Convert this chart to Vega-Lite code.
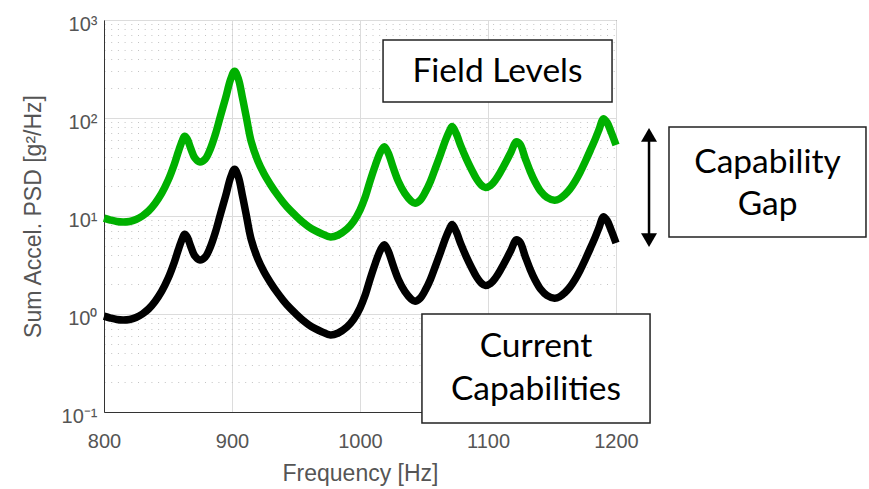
{
  "$schema": "https://vega.github.io/schema/vega-lite/v6.json",
  "width": 512,
  "height": 392,
  "autosize": {"type": "none"},
  "padding": {"left": 104, "top": 20, "right": 253, "bottom": 77},
  "background": "white",
  "config": {
    "view": {"stroke": "#333333", "strokeWidth": 1},
    "font": "Liberation Sans"
  },
  "datasets": {
    "psd": [
      {"f":800,"v":0.95,"s":"Current Capabilities"},{"f":805,"v":0.91,"s":"Current Capabilities"},{"f":810,"v":0.88,"s":"Current Capabilities"},{"f":815,"v":0.87,"s":"Current Capabilities"},{"f":820,"v":0.88,"s":"Current Capabilities"},{"f":825,"v":0.92,"s":"Current Capabilities"},{"f":830,"v":1.0,"s":"Current Capabilities"},{"f":835,"v":1.13,"s":"Current Capabilities"},{"f":840,"v":1.35,"s":"Current Capabilities"},{"f":845,"v":1.7,"s":"Current Capabilities"},{"f":850,"v":2.3,"s":"Current Capabilities"},{"f":855,"v":3.4,"s":"Current Capabilities"},{"f":858,"v":4.5,"s":"Current Capabilities"},{"f":861,"v":5.8,"s":"Current Capabilities"},{"f":863,"v":6.5,"s":"Current Capabilities"},{"f":865,"v":6.1,"s":"Current Capabilities"},{"f":868,"v":4.8,"s":"Current Capabilities"},{"f":871,"v":3.9,"s":"Current Capabilities"},{"f":875,"v":3.55,"s":"Current Capabilities"},{"f":879,"v":3.8,"s":"Current Capabilities"},{"f":883,"v":4.8,"s":"Current Capabilities"},{"f":887,"v":6.8,"s":"Current Capabilities"},{"f":891,"v":10.5,"s":"Current Capabilities"},{"f":895,"v":16,"s":"Current Capabilities"},{"f":899,"v":25,"s":"Current Capabilities"},{"f":902,"v":30,"s":"Current Capabilities"},{"f":905,"v":25,"s":"Current Capabilities"},{"f":908,"v":16.5,"s":"Current Capabilities"},{"f":911,"v":10.5,"s":"Current Capabilities"},{"f":915,"v":5.75,"s":"Current Capabilities"},{"f":920,"v":3.7,"s":"Current Capabilities"},{"f":925,"v":2.7,"s":"Current Capabilities"},{"f":930,"v":2.1,"s":"Current Capabilities"},{"f":935,"v":1.68,"s":"Current Capabilities"},{"f":940,"v":1.38,"s":"Current Capabilities"},{"f":945,"v":1.16,"s":"Current Capabilities"},{"f":950,"v":1.0,"s":"Current Capabilities"},{"f":955,"v":0.87,"s":"Current Capabilities"},{"f":960,"v":0.776,"s":"Current Capabilities"},{"f":965,"v":0.71,"s":"Current Capabilities"},{"f":970,"v":0.66,"s":"Current Capabilities"},{"f":977,"v":0.61,"s":"Current Capabilities"},{"f":983,"v":0.64,"s":"Current Capabilities"},{"f":990,"v":0.74,"s":"Current Capabilities"},{"f":995,"v":0.88,"s":"Current Capabilities"},{"f":1000,"v":1.15,"s":"Current Capabilities"},{"f":1004,"v":1.55,"s":"Current Capabilities"},{"f":1008,"v":2.3,"s":"Current Capabilities"},{"f":1012,"v":3.3,"s":"Current Capabilities"},{"f":1016,"v":4.5,"s":"Current Capabilities"},{"f":1019,"v":5.1,"s":"Current Capabilities"},{"f":1022,"v":4.4,"s":"Current Capabilities"},{"f":1026,"v":3.1,"s":"Current Capabilities"},{"f":1030,"v":2.25,"s":"Current Capabilities"},{"f":1035,"v":1.7,"s":"Current Capabilities"},{"f":1040,"v":1.42,"s":"Current Capabilities"},{"f":1043,"v":1.35,"s":"Current Capabilities"},{"f":1047,"v":1.45,"s":"Current Capabilities"},{"f":1051,"v":1.75,"s":"Current Capabilities"},{"f":1055,"v":2.25,"s":"Current Capabilities"},{"f":1059,"v":3.1,"s":"Current Capabilities"},{"f":1063,"v":4.3,"s":"Current Capabilities"},{"f":1067,"v":6.0,"s":"Current Capabilities"},{"f":1070,"v":7.4,"s":"Current Capabilities"},{"f":1072,"v":8.2,"s":"Current Capabilities"},{"f":1075,"v":7.0,"s":"Current Capabilities"},{"f":1079,"v":5.1,"s":"Current Capabilities"},{"f":1083,"v":3.85,"s":"Current Capabilities"},{"f":1087,"v":3.0,"s":"Current Capabilities"},{"f":1091,"v":2.4,"s":"Current Capabilities"},{"f":1095,"v":2.05,"s":"Current Capabilities"},{"f":1098,"v":1.95,"s":"Current Capabilities"},{"f":1102,"v":2.05,"s":"Current Capabilities"},{"f":1106,"v":2.35,"s":"Current Capabilities"},{"f":1110,"v":2.85,"s":"Current Capabilities"},{"f":1114,"v":3.55,"s":"Current Capabilities"},{"f":1118,"v":4.5,"s":"Current Capabilities"},{"f":1122,"v":5.7,"s":"Current Capabilities"},{"f":1125,"v":5.4,"s":"Current Capabilities"},{"f":1129,"v":3.9,"s":"Current Capabilities"},{"f":1133,"v":2.85,"s":"Current Capabilities"},{"f":1137,"v":2.2,"s":"Current Capabilities"},{"f":1141,"v":1.8,"s":"Current Capabilities"},{"f":1146,"v":1.55,"s":"Current Capabilities"},{"f":1152,"v":1.45,"s":"Current Capabilities"},{"f":1156,"v":1.5,"s":"Current Capabilities"},{"f":1160,"v":1.65,"s":"Current Capabilities"},{"f":1164,"v":1.88,"s":"Current Capabilities"},{"f":1168,"v":2.25,"s":"Current Capabilities"},{"f":1172,"v":2.8,"s":"Current Capabilities"},{"f":1176,"v":3.6,"s":"Current Capabilities"},{"f":1180,"v":4.7,"s":"Current Capabilities"},{"f":1184,"v":6.2,"s":"Current Capabilities"},{"f":1187,"v":7.8,"s":"Current Capabilities"},{"f":1190,"v":9.8,"s":"Current Capabilities"},{"f":1193,"v":9.0,"s":"Current Capabilities"},{"f":1196,"v":7.3,"s":"Current Capabilities"},{"f":1200,"v":5.3,"s":"Current Capabilities"},
      {"f":800,"v":9.5,"s":"Field Levels"},{"f":805,"v":9.1,"s":"Field Levels"},{"f":810,"v":8.8,"s":"Field Levels"},{"f":815,"v":8.7,"s":"Field Levels"},{"f":820,"v":8.8,"s":"Field Levels"},{"f":825,"v":9.2,"s":"Field Levels"},{"f":830,"v":10,"s":"Field Levels"},{"f":835,"v":11.3,"s":"Field Levels"},{"f":840,"v":13.5,"s":"Field Levels"},{"f":845,"v":17,"s":"Field Levels"},{"f":850,"v":23,"s":"Field Levels"},{"f":855,"v":34,"s":"Field Levels"},{"f":858,"v":45,"s":"Field Levels"},{"f":861,"v":58,"s":"Field Levels"},{"f":863,"v":65,"s":"Field Levels"},{"f":865,"v":61,"s":"Field Levels"},{"f":868,"v":48,"s":"Field Levels"},{"f":871,"v":39,"s":"Field Levels"},{"f":875,"v":35.5,"s":"Field Levels"},{"f":879,"v":38,"s":"Field Levels"},{"f":883,"v":48,"s":"Field Levels"},{"f":887,"v":68,"s":"Field Levels"},{"f":891,"v":105,"s":"Field Levels"},{"f":895,"v":160,"s":"Field Levels"},{"f":899,"v":250,"s":"Field Levels"},{"f":902,"v":300,"s":"Field Levels"},{"f":905,"v":250,"s":"Field Levels"},{"f":908,"v":165,"s":"Field Levels"},{"f":911,"v":105,"s":"Field Levels"},{"f":915,"v":57.5,"s":"Field Levels"},{"f":920,"v":37,"s":"Field Levels"},{"f":925,"v":27,"s":"Field Levels"},{"f":930,"v":21,"s":"Field Levels"},{"f":935,"v":16.8,"s":"Field Levels"},{"f":940,"v":13.8,"s":"Field Levels"},{"f":945,"v":11.6,"s":"Field Levels"},{"f":950,"v":10,"s":"Field Levels"},{"f":955,"v":8.7,"s":"Field Levels"},{"f":960,"v":7.76,"s":"Field Levels"},{"f":965,"v":7.1,"s":"Field Levels"},{"f":970,"v":6.6,"s":"Field Levels"},{"f":977,"v":6.1,"s":"Field Levels"},{"f":983,"v":6.4,"s":"Field Levels"},{"f":990,"v":7.4,"s":"Field Levels"},{"f":995,"v":8.8,"s":"Field Levels"},{"f":1000,"v":11.5,"s":"Field Levels"},{"f":1004,"v":15.5,"s":"Field Levels"},{"f":1008,"v":23,"s":"Field Levels"},{"f":1012,"v":33,"s":"Field Levels"},{"f":1016,"v":45,"s":"Field Levels"},{"f":1019,"v":51,"s":"Field Levels"},{"f":1022,"v":44,"s":"Field Levels"},{"f":1026,"v":31,"s":"Field Levels"},{"f":1030,"v":22.5,"s":"Field Levels"},{"f":1035,"v":17,"s":"Field Levels"},{"f":1040,"v":14.2,"s":"Field Levels"},{"f":1043,"v":13.5,"s":"Field Levels"},{"f":1047,"v":14.5,"s":"Field Levels"},{"f":1051,"v":17.5,"s":"Field Levels"},{"f":1055,"v":22.5,"s":"Field Levels"},{"f":1059,"v":31,"s":"Field Levels"},{"f":1063,"v":43,"s":"Field Levels"},{"f":1067,"v":60,"s":"Field Levels"},{"f":1070,"v":74,"s":"Field Levels"},{"f":1072,"v":82,"s":"Field Levels"},{"f":1075,"v":70,"s":"Field Levels"},{"f":1079,"v":51,"s":"Field Levels"},{"f":1083,"v":38.5,"s":"Field Levels"},{"f":1087,"v":30,"s":"Field Levels"},{"f":1091,"v":24,"s":"Field Levels"},{"f":1095,"v":20.5,"s":"Field Levels"},{"f":1098,"v":19.5,"s":"Field Levels"},{"f":1102,"v":20.5,"s":"Field Levels"},{"f":1106,"v":23.5,"s":"Field Levels"},{"f":1110,"v":28.5,"s":"Field Levels"},{"f":1114,"v":35.5,"s":"Field Levels"},{"f":1118,"v":45,"s":"Field Levels"},{"f":1122,"v":57,"s":"Field Levels"},{"f":1125,"v":54,"s":"Field Levels"},{"f":1129,"v":39,"s":"Field Levels"},{"f":1133,"v":28.5,"s":"Field Levels"},{"f":1137,"v":22,"s":"Field Levels"},{"f":1141,"v":18,"s":"Field Levels"},{"f":1146,"v":15.5,"s":"Field Levels"},{"f":1152,"v":14.5,"s":"Field Levels"},{"f":1156,"v":15,"s":"Field Levels"},{"f":1160,"v":16.5,"s":"Field Levels"},{"f":1164,"v":18.8,"s":"Field Levels"},{"f":1168,"v":22.5,"s":"Field Levels"},{"f":1172,"v":28,"s":"Field Levels"},{"f":1176,"v":36,"s":"Field Levels"},{"f":1180,"v":47,"s":"Field Levels"},{"f":1184,"v":62,"s":"Field Levels"},{"f":1187,"v":78,"s":"Field Levels"},{"f":1190,"v":98,"s":"Field Levels"},{"f":1193,"v":90,"s":"Field Levels"},{"f":1196,"v":73,"s":"Field Levels"},{"f":1200,"v":53,"s":"Field Levels"}
    ],
    "one": [{}]
  },
  "layer": [
    {
      "data": {"name": "psd"},
      "mark": {"type": "line", "interpolate": "catmull-rom", "strokeWidth": 7.5, "strokeJoin": "round"},
      "encoding": {
        "x": {
          "field": "f", "type": "quantitative",
          "scale": {"domain": [800, 1200], "nice": false, "zero": false},
          "axis": {
            "title": "Frequency [Hz]",
            "values": [800, 900, 1000, 1100, 1200],
            "format": "d",
            "grid": true, "gridColor": "#dcdcdc", "gridWidth": 1,
            "domainColor": "#333333",
            "ticks": false,
            "labelFont": "Liberation Sans", "labelFontSize": 20, "labelColor": "#555555",
            "labelPadding": 19, "labelFlush": false, "labelOverlap": false,
            "titleFont": "Liberation Sans", "titleFontSize": 23, "titleFontWeight": "normal", "titleColor": "#555555",
            "titleX": 256, "titleY": 68, "titleBaseline": "alphabetic", "titleAlign": "center"
          }
        },
        "y": {
          "field": "v", "type": "quantitative",
          "scale": {"type": "log", "domain": [0.1, 1000], "nice": false},
          "axis": {
            "title": "Sum Accel. PSD [g²/Hz]",
            "values": [0.1,0.2,0.3,0.4,0.5,0.6,0.7,0.8,0.9,1,2,3,4,5,6,7,8,9,10,20,30,40,50,60,70,80,90,100,200,300,400,500,600,700,800,900,1000],
            "grid": true,
            "gridColor": {"condition": {"test": "abs(log(datum.value)/LN10 - round(log(datum.value)/LN10)) < 0.001", "value": "#dcdcdc"}, "value": "#c4c4c4"},
            "gridDash": {"condition": {"test": "abs(log(datum.value)/LN10 - round(log(datum.value)/LN10)) < 0.001", "value": []}, "value": [1, 5.7]},
            "gridWidth": 1,
            "domainColor": "#333333",
            "ticks": false,
            "labelExpr": "datum.value == 1000 ? '10³' : datum.value == 100 ? '10²' : datum.value == 10 ? '10¹' : datum.value == 1 ? '10⁰' : datum.value == 0.1 ? '10⁻¹' : ''",
            "labelFont": "Liberation Sans", "labelFontSize": 20, "labelColor": "#555555",
            "labelPadding": 7, "labelOverlap": false, "labelFlush": false, "labelOffset": 4,
            "titleFont": "Liberation Sans", "titleFontSize": 23, "titleFontWeight": "normal", "titleColor": "#555555",
            "titleX": -71, "titleY": 196, "titleAngle": 270, "titleAlign": "center", "titleBaseline": "middle"
          }
        },
        "color": {
          "field": "s", "type": "nominal",
          "scale": {"domain": ["Field Levels", "Current Capabilities"], "range": ["#00b000", "#000000"]},
          "legend": null
        },
        "detail": {"field": "s"}
      }
    },
    {
      "data": {"name": "one"},
      "mark": {"type": "rect", "fill": "white", "stroke": "#222222", "strokeWidth": 1.5},
      "encoding": {
        "x": {"datum": 1018, "type": "quantitative", "scale": {"domain": [800, 1200], "nice": false, "zero": false}},
        "x2": {"datum": 1196.9},
        "y": {"datum": 625, "type": "quantitative", "scale": {"type": "log", "domain": [0.1, 1000], "nice": false}},
        "y2": {"datum": 145.6}
      }
    },
    {
      "data": {"name": "one"},
      "mark": {"type": "text", "text": "Field Levels", "font": "Lato", "fontSize": 33.5, "color": "#000000", "align": "center", "baseline": "middle"},
      "encoding": {
        "x": {"datum": 1107.4, "type": "quantitative", "scale": {"domain": [800, 1200], "nice": false, "zero": false}},
        "y": {"datum": 294.6, "type": "quantitative", "scale": {"type": "log", "domain": [0.1, 1000], "nice": false}}
      }
    },
    {
      "data": {"name": "one"},
      "mark": {"type": "rect", "fill": "white", "stroke": "#222222", "strokeWidth": 1.5},
      "encoding": {
        "x": {"datum": 1241.4, "type": "quantitative", "scale": {"domain": [800, 1200], "nice": false, "zero": false}},
        "x2": {"datum": 1395.3},
        "y": {"datum": 80.9, "type": "quantitative", "scale": {"type": "log", "domain": [0.1, 1000], "nice": false}},
        "y2": {"datum": 6.1}
      }
    },
    {
      "data": {"name": "one"},
      "mark": {"type": "text", "text": ["Capability", "Gap"], "lineHeight": 42, "font": "Lato", "fontSize": 33.5, "color": "#000000", "align": "center", "baseline": "middle"},
      "encoding": {
        "x": {"datum": 1318.4, "type": "quantitative", "scale": {"domain": [800, 1200], "nice": false, "zero": false}},
        "y": {"datum": 34.7, "type": "quantitative", "scale": {"type": "log", "domain": [0.1, 1000], "nice": false}}
      }
    },
    {
      "data": {"name": "one"},
      "mark": {"type": "rule", "color": "#000000", "strokeWidth": 2.5},
      "encoding": {
        "x": {"datum": 1225.8, "type": "quantitative", "scale": {"domain": [800, 1200], "nice": false, "zero": false}},
        "y": {"datum": 67.2, "type": "quantitative", "scale": {"type": "log", "domain": [0.1, 1000], "nice": false}},
        "y2": {"datum": 5.68}
      }
    },
    {
      "data": {"name": "one"},
      "mark": {"type": "point", "shape": "triangle-up", "filled": true, "size": 256, "color": "#000000", "opacity": 1},
      "encoding": {
        "x": {"datum": 1225.8, "type": "quantitative", "scale": {"domain": [800, 1200], "nice": false, "zero": false}},
        "y": {"datum": 67.2, "type": "quantitative", "scale": {"type": "log", "domain": [0.1, 1000], "nice": false}}
      }
    },
    {
      "data": {"name": "one"},
      "mark": {"type": "point", "shape": "triangle-down", "filled": true, "size": 256, "color": "#000000", "opacity": 1},
      "encoding": {
        "x": {"datum": 1225.8, "type": "quantitative", "scale": {"domain": [800, 1200], "nice": false, "zero": false}},
        "y": {"datum": 5.68, "type": "quantitative", "scale": {"type": "log", "domain": [0.1, 1000], "nice": false}}
      }
    },
    {
      "data": {"name": "one"},
      "mark": {"type": "rect", "fill": "white", "stroke": "#222222", "strokeWidth": 1.5},
      "encoding": {
        "x": {"datum": 1048.4, "type": "quantitative", "scale": {"domain": [800, 1200], "nice": false, "zero": false}},
        "x2": {"datum": 1226.6},
        "y": {"datum": 1.0, "type": "quantitative", "scale": {"type": "log", "domain": [0.1, 1000], "nice": false}},
        "y2": {"datum": 0.0772}
      }
    },
    {
      "data": {"name": "one"},
      "mark": {"type": "text", "text": ["Current", "Capabilities"], "lineHeight": 43, "font": "Lato", "fontSize": 33.5, "color": "#000000", "align": "center", "baseline": "middle"},
      "encoding": {
        "x": {"datum": 1137.5, "type": "quantitative", "scale": {"domain": [800, 1200], "nice": false, "zero": false}},
        "y": {"datum": 0.46, "type": "quantitative", "scale": {"type": "log", "domain": [0.1, 1000], "nice": false}}
      }
    }
  ]
}
